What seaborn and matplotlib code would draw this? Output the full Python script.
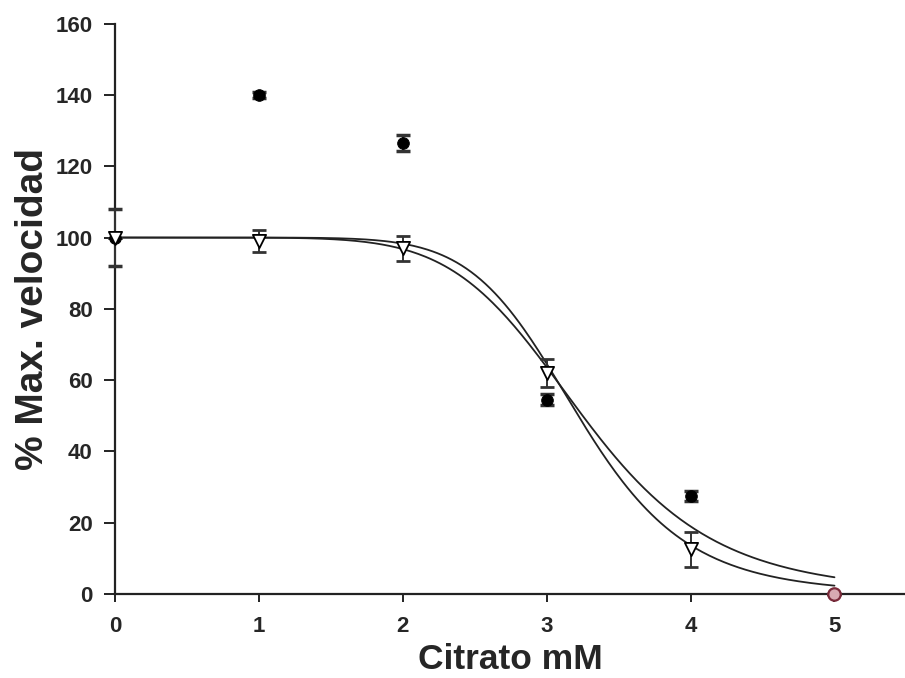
import numpy as np
import pandas as pd
import matplotlib
matplotlib.use("Agg")
import matplotlib.pyplot as plt
import seaborn as sns

# ---- data ----
citrato = [0, 1, 2, 3, 4, 5]
circ_vals = [100, 140, 126.5, 54.5, 27.5, 0]
circ_err = [8, 0.8, 2.3, 1.5, 1.5, 0]
tri_vals = [100, 99, 97, 62, 12.5, 0]
tri_err = [0, 3, 3.5, 4, 5, 0]
# sigmoid fits (top, IC50, Hill slope)
fit_top = [100, 100]
fit_ic50 = [3.25, 3.22]
fit_hill = [7.0, 8.5]

sns.set_style("ticks")
plt.rcParams['font.family'] = ['Liberation Sans', 'DejaVu Sans']

fig = plt.figure(figsize=(9.05, 6.78), dpi=100)
ax = fig.add_axes([0.127, 0.124, 0.873, 0.841])

xs = np.linspace(0, 5, 300)
for top, c, n in zip(fit_top, fit_ic50, fit_hill):
    ys = top / (1 + (xs / c) ** n)
    sns.lineplot(x=xs, y=ys, ax=ax, color="#222222", linewidth=1.3)

df_c = pd.DataFrame({"x": citrato, "y": circ_vals, "e": circ_err})
df_t = pd.DataFrame({"x": citrato, "y": tri_vals, "e": tri_err})

eb1 = ax.errorbar(df_c["x"], df_c["y"], yerr=df_c["e"], fmt="none", ecolor="#333333",
                  elinewidth=1.4, capsize=5, capthick=2.5, zorder=3)
eb2 = ax.errorbar(df_t["x"], df_t["y"], yerr=df_t["e"], fmt="none", ecolor="#333333",
                  elinewidth=1.4, capsize=5, capthick=2, zorder=3)
for eb in (eb1, eb2):
    for art in eb.lines[1] + eb.lines[2]:
        art.set_clip_on(False)

sns.scatterplot(data=df_c.iloc[:-1], x="x", y="y", ax=ax, marker="o", s=70,
                color="black", edgecolor="black", zorder=4, clip_on=False)
sns.scatterplot(data=df_t.iloc[:-1], x="x", y="y", ax=ax, marker="v", s=90,
                facecolor="white", edgecolor="black", linewidth=1.3, zorder=5,
                clip_on=False)
sns.scatterplot(data=df_c.iloc[-1:], x="x", y="y", ax=ax, marker="o", s=80,
                facecolor="#d8aab2", edgecolor="#7a2a3a", linewidth=1.6, zorder=6,
                clip_on=False)

ax.set_xlim(0, 5.49)
ax.set_ylim(0, 160)
ax.set_xticks(range(0, 6))
ax.set_yticks(range(0, 161, 20))
ax.spines["top"].set_visible(False)
ax.spines["right"].set_visible(False)
for s in ["left", "bottom"]:
    ax.spines[s].set_linewidth(1.6)
    ax.spines[s].set_color("#222222")
    ax.spines[s].set_clip_on(False)
ax.tick_params(axis="y", direction="out", length=8, width=1.4, color="#222222",
               labelsize=16, pad=8)
ax.tick_params(axis="x", direction="out", length=6, width=1.4, color="#222222",
               labelsize=16, pad=10)
for lab in ax.get_xticklabels() + ax.get_yticklabels():
    lab.set_fontweight("bold")

ax.set_xlabel("Citrato mM", fontsize=25.5, fontweight="bold", labelpad=4)
ax.set_ylabel("% Max. velocidad", fontsize=28, fontweight="bold", labelpad=3)

fig.savefig("out.png", dpi=100)
